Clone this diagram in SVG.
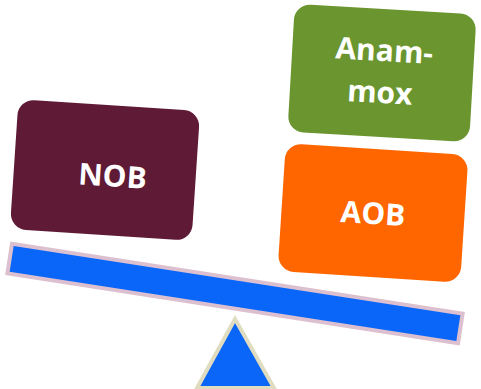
<svg xmlns="http://www.w3.org/2000/svg" width="481" height="389" viewBox="0 0 481 389">
  <style>
    .label { font-family: "Open Sans", "Liberation Sans", sans-serif; font-weight: bold; font-size: 30px; fill: #ffffff; text-anchor: middle; }
    .support { fill: #0a66f8; stroke: #e0dcbf; stroke-width: 4; stroke-linejoin: miter; }
    .beam { fill: #0a66f8; stroke: #dcc0d0; stroke-width: 4; }
  </style>
  <rect width="481" height="389" fill="#ffffff"/>

  <!-- fulcrum -->
  <g id="fulcrum">
    <polygon class="support" points="235,319 197,388 274,388"/>
  </g>

  <!-- tilted balance beam -->
  <g id="beam">
    <rect class="beam" x="-228" y="-15" width="456" height="30" transform="translate(235,293.5) rotate(8.8)"/>
  </g>

  <g id="nob" transform="translate(105,170) rotate(3.8)">
    <rect x="-91" y="-65" width="182" height="130" rx="16" fill="#5f1a35"/>
    <text class="label" x="8" y="16">NOB</text>
  </g>

  <g id="anammox" transform="translate(382,73) rotate(3.3)">
    <rect x="-91" y="-64" width="182" height="128" rx="16" fill="#6b962f"/>
    <text class="label" x="1" y="-12">Anam-</text>
    <text class="label" x="-1" y="30">mox</text>
  </g>

  <g id="aob" transform="translate(373,213) rotate(3.7)">
    <rect x="-91.5" y="-64" width="183" height="128" rx="16" fill="#ff6600"/>
    <text class="label" x="0" y="11">AOB</text>
  </g>
</svg>
